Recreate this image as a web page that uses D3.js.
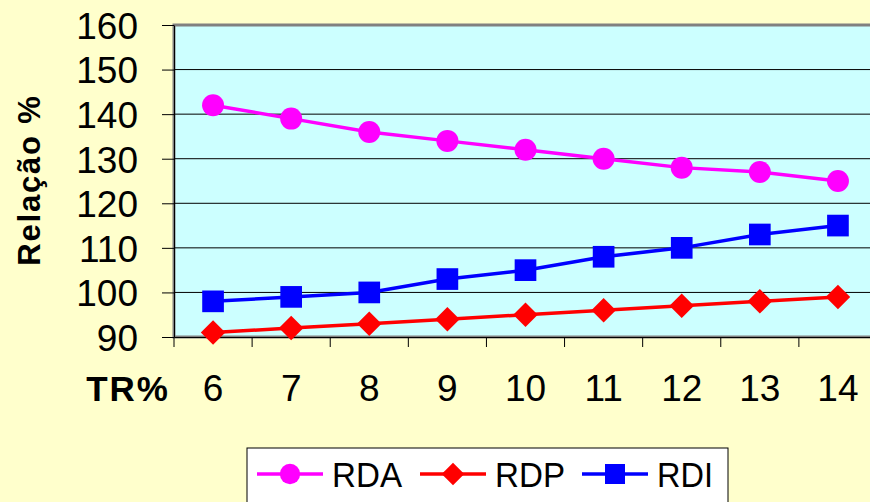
<!DOCTYPE html>
<html><head><meta charset="utf-8">
<script src="https://cdn.jsdelivr.net/npm/d3@7"></script>
<style>body{margin:0;background:#FFFFCC;overflow:hidden}svg{display:block}</style>
</head><body>
<svg id="c" width="870" height="502"></svg>
<script>
const categories = ["6","7","8","9","10","11","12","13","14"];
const rda = [142,139,136,134,132,130,128,127,125];
const rdp = [91,92,93,94,95,96,97,98,99];
const rdi = [98,99,100,103,105,108,110,113,115];
const yTicks = [90,100,110,120,130,140,150,160];
const seriesNames = ["RDA","RDP","RDI"];

const svg = d3.select("#c");
const W = 870, H = 502;
const L = 174, T = 25, R = 877, B = 337;
svg.append("rect").attr("width",W).attr("height",H).attr("fill","#FFFFCC");

const x = d3.scaleBand().domain(categories).range([L,R]);
const y = d3.scaleLinear().domain([90,160]).range([B,T]);
const font = "Arial, 'Liberation Sans', sans-serif";

// plot area
svg.append("rect").attr("x",L).attr("y",T).attr("width",R-L).attr("height",B-T)
  .attr("fill","#CCFFFF").attr("stroke","#808080").attr("stroke-width",3);

// gridlines
svg.append("g").selectAll("line").data(yTicks.filter(v=>v>90 && v<160)).join("line")
  .attr("x1",L).attr("x2",R).attr("y1",d=>y(d)).attr("y2",d=>y(d))
  .attr("stroke","#000").attr("stroke-width",1);

// y axis
const yAxis = svg.append("g").attr("transform",`translate(${L},0)`)
  .call(d3.axisLeft(y).tickValues(yTicks).tickSize(12).tickPadding(24).tickSizeOuter(0));
yAxis.select(".domain").attr("stroke","#000");
yAxis.selectAll("text").attr("font-family",font).attr("font-size",37).attr("fill","#000").attr("dy","0.36em");

// x axis
const xAxis = svg.append("g").attr("transform",`translate(0,${B})`)
  .call(d3.axisBottom(x).tickSize(0).tickPadding(38).tickSizeOuter(0));
xAxis.select(".domain").attr("stroke","#000");
xAxis.selectAll("text").attr("font-family",font).attr("font-size",37).attr("fill","#000");
const bounds = categories.map(c=>x(c));
xAxis.selectAll("line.sep").data(bounds).join("line").attr("class","sep")
  .attr("x1",d=>d).attr("x2",d=>d).attr("y1",0).attr("y2",10).attr("stroke","#000");

svg.append("text").attr("x",170).attr("y",401).attr("text-anchor","end")
  .attr("font-family",font).attr("font-weight","bold").attr("font-size",35)
  .attr("letter-spacing",2).text("TR%");

svg.append("text").attr("transform","translate(40,180) rotate(-90)").attr("text-anchor","middle")
  .attr("font-family",font).attr("font-weight","bold").attr("font-size",31)
  .attr("letter-spacing",1.8).text("Relação %");

const cx = d => x(d) + x.bandwidth()/2;
const series = [
  {name:seriesNames[0], vals:rda, color:"#FF00FF", sym:d3.symbolCircle, size:380, rot:0},
  {name:seriesNames[1], vals:rdp, color:"#FF0000", sym:d3.symbolSquare, size:300, rot:45},
  {name:seriesNames[2], vals:rdi, color:"#0000FF", sym:d3.symbolSquare, size:470, rot:0}
];
const line = d3.line().x((d,i)=>cx(categories[i])).y(d=>y(d));
series.forEach(s=>{
  svg.append("path").datum(s.vals).attr("d",line).attr("fill","none")
    .attr("stroke",s.color).attr("stroke-width",3.5);
  svg.append("g").selectAll("path").data(s.vals).join("path")
    .attr("transform",(d,i)=>`translate(${cx(categories[i])},${y(d)}) rotate(${s.rot})`)
    .attr("d",d3.symbol().type(s.sym).size(s.size)).attr("fill",s.color);
});

// legend
const lg = svg.append("g");
lg.append("rect").attr("x",247).attr("y",448).attr("width",481).attr("height",60)
  .attr("fill","#fff").attr("stroke","#000").attr("stroke-width",1);
const lx = [257,420,582];
series.forEach((s,i)=>{
  const g = lg.append("g").attr("transform",`translate(${lx[i]},474)`);
  g.append("line").attr("x1",0).attr("x2",66).attr("stroke",s.color).attr("stroke-width",3.5);
  g.append("path").attr("transform",`translate(33,0) rotate(${s.rot})`)
    .attr("d",d3.symbol().type(s.sym).size(s.size*0.85)).attr("fill",s.color);
  g.append("text").attr("x",75).attr("y",13).attr("font-family",font).attr("font-size",35)
    .attr("textLength", i===2?56:70).attr("lengthAdjust","spacingAndGlyphs").text(s.name);
});
</script>
</body></html>
